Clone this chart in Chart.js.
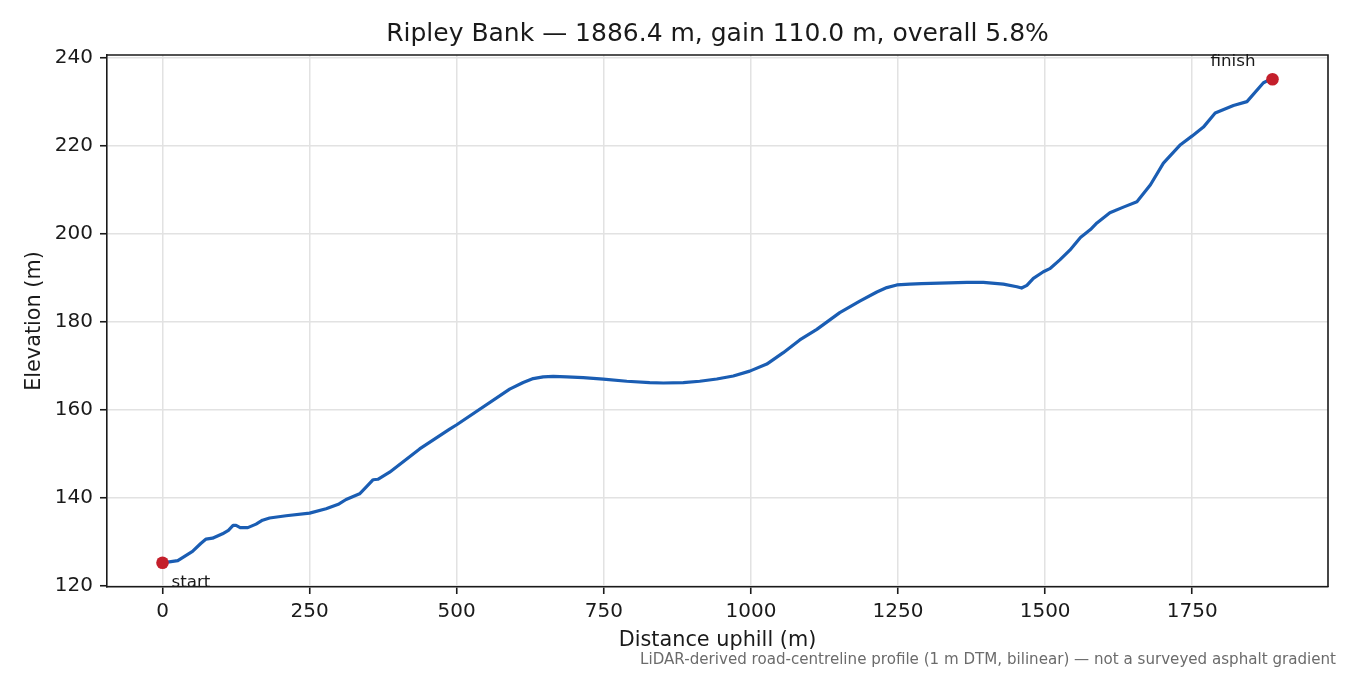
<!DOCTYPE html>
<html>
<head>
<meta charset="utf-8">
<title>Ripley Bank profile</title>
<script src="https://cdn.jsdelivr.net/npm/chart.js@4.4.1/dist/chart.umd.min.js"></script>
<style>
  html, body { margin: 0; padding: 0; background: #fff; }
  #wrap { width: 1350px; height: 675px; }
</style>
</head>
<body>
<div id="wrap"><canvas id="profile" width="1350" height="675"></canvas></div>
<script>
// profile (distance uphill in m, elevation in m)
const distance = [
  0, 26, 51, 65, 74, 85, 102, 112, 120, 125, 132, 145, 159, 170, 182, 210,
  250, 278, 300, 312, 335, 346, 358, 366, 386, 437, 488, 500, 590, 613, 630,
  647, 664, 687, 715, 749, 789, 828, 851, 885, 913, 942, 970, 998, 1027, 1055,
  1083, 1112, 1151, 1185, 1214, 1231, 1248, 1270, 1290, 1367, 1395, 1429,
  1452, 1460, 1469, 1480, 1497, 1508, 1525, 1542, 1560, 1577, 1588, 1610, 1633, 1656,
  1679, 1701, 1730, 1750, 1769, 1789, 1820, 1843, 1871, 1880, 1886.4
];
const elevation = [
  125.2, 125.7, 127.8, 129.6, 130.6, 130.8, 131.8, 132.6, 133.7, 133.7, 133.2, 133.2, 134.0, 134.9, 135.4, 135.9,
  136.5, 137.5, 138.6, 139.6, 140.9, 142.4, 144.1, 144.2, 145.8, 151.1, 155.6, 156.6, 164.7, 166.2, 167.1,
  167.5, 167.6, 167.5, 167.3, 167.0, 166.5, 166.2, 166.1, 166.2, 166.5, 167.0, 167.7, 168.8, 170.4, 173.0,
  175.9, 178.3, 182.1, 184.7, 186.8, 187.8, 188.4, 188.6, 188.7, 189.0, 189.0, 188.6,
  188.0, 187.7, 188.3, 189.9, 191.4, 192.1, 194.1, 196.3, 199.2, 201.0, 202.5, 204.8, 206.1, 207.3,
  211.2, 216.1, 220.3, 222.3, 224.3, 227.5, 229.2, 230.1, 234.4, 235.0, 235.2
];
const xTickLabels = [0, 250, 500, 750, 1000, 1250, 1500, 1750];
const yTickLabels = [120, 140, 160, 180, 200, 220, 240];
const endLabels = ['start', 'finish'];

const routeName = 'Ripley Bank';
const note = 'LiDAR-derived road-centreline profile (1 m DTM, bilinear) \u2014 not a surveyed asphalt gradient';

const last = distance.length - 1;
const length = distance[last];
const gain = elevation[last] - elevation[0];
const titleText = routeName + ' \u2014 ' + length.toFixed(1) + ' m, gain ' + gain.toFixed(1) +
  ' m, overall ' + (gain / length * 100).toFixed(1) + '%';

// matplotlib-ish 5% margins
const xPad = (distance[last] - distance[0]) * 0.05;
const yPad = (Math.max(...elevation) - Math.min(...elevation)) * 0.05;

const FONT = '"DejaVu Sans", "Liberation Sans", sans-serif';
const INK = '#1a1a1a';

const frameAndNotes = {
  id: 'frameAndNotes',
  afterDraw(chart) {
    const ctx = chart.ctx;
    const a = chart.chartArea;
    const x = chart.scales.x, y = chart.scales.y;
    ctx.save();
    // top + right spines
    ctx.strokeStyle = INK;
    ctx.lineWidth = 1.6;
    ctx.beginPath();
    ctx.moveTo(a.left, a.top);
    ctx.lineTo(a.right, a.top);
    ctx.lineTo(a.right, a.bottom);
    ctx.stroke();

    // start / finish labels
    ctx.font = '16.7px ' + FONT;
    ctx.fillStyle = INK;
    ctx.textBaseline = 'alphabetic';
    ctx.textAlign = 'left';
    ctx.fillText(endLabels[0], x.getPixelForValue(distance[0]) + 9, y.getPixelForValue(elevation[0]) + 24);
    ctx.textAlign = 'right';
    ctx.fillText(endLabels[1], x.getPixelForValue(distance[last]) - 17, y.getPixelForValue(elevation[last]) - 13);

    // footnote
    ctx.font = '15.1px ' + FONT;
    ctx.fillStyle = '#6b6b6b';
    ctx.textAlign = 'right';
    ctx.textBaseline = 'middle';
    ctx.fillText(note, 1336, 660);
    ctx.restore();
  }
};

const ctx = document.getElementById('profile').getContext('2d');

const profileChart = new Chart(ctx, {
  type: 'line',
  data: {
    datasets: [{
      label: 'ends',
      data: [
        { x: distance[0], y: elevation[0] },
        { x: distance[last], y: elevation[last] }
      ],
      showLine: false,
      pointRadius: 6.3,
      pointBackgroundColor: '#c41f2b',
      pointBorderWidth: 0,
      order: 0
    }, {
      label: 'profile',
      data: distance.map((d, i) => ({ x: d, y: elevation[i] })),
      borderColor: '#1a5db3',
      borderWidth: 3.2,
      borderJoinStyle: 'round',
      pointRadius: 0,
      tension: 0,
      fill: false,
      order: 1
    }]
  },
  options: {
    responsive: false,
    animation: false,
    devicePixelRatio: 1,
    layout: { padding: { top: 0, right: 22, bottom: 0, left: 0 } },
    plugins: {
      legend: { display: false },
      tooltip: { enabled: false },
      title: {
        display: true,
        text: titleText,
        fullSize: false,
        color: INK,
        font: { family: FONT, size: 25, weight: 'normal' },
        padding: { top: 19, bottom: 6 }
      }
    },
    scales: {
      x: {
        type: 'linear',
        min: distance[0] - xPad,
        max: distance[last] + xPad,
        afterBuildTicks: s => { s.ticks = xTickLabels.map(v => ({ value: v })); },
        afterFit: s => { s.height = 88; },
        ticks: {
          color: INK,
          padding: 6,
          maxRotation: 0,
          font: { family: FONT, size: 20 },
          callback: v => String(v)
        },
        grid: { color: '#e2e2e2', lineWidth: 1.5, tickColor: INK, tickLength: 7, tickWidth: 1.6 },
        border: { display: true, color: INK, width: 1.6 },
        title: {
          display: true,
          text: 'Distance uphill (m)',
          color: INK,
          font: { family: FONT, size: 20.8 },
          padding: { top: 0, bottom: 22 }
        }
      },
      y: {
        type: 'linear',
        min: Math.min(...elevation) - yPad,
        max: Math.max(...elevation) + yPad,
        afterBuildTicks: s => { s.ticks = yTickLabels.map(v => ({ value: v })); },
        afterFit: s => { s.width = 107; },
        ticks: {
          color: INK,
          padding: 7,
          font: { family: FONT, size: 20 },
          callback: v => String(v)
        },
        grid: { color: '#e2e2e2', lineWidth: 1.5, tickColor: INK, tickLength: 7, tickWidth: 1.6 },
        border: { display: true, color: INK, width: 1.6 },
        title: {
          display: true,
          text: 'Elevation (m)',
          color: INK,
          font: { family: FONT, size: 20.8 },
          padding: { top: 22, bottom: 0 }
        }
      }
    }
  },
  plugins: [frameAndNotes]
});
</script>
</body>
</html>
